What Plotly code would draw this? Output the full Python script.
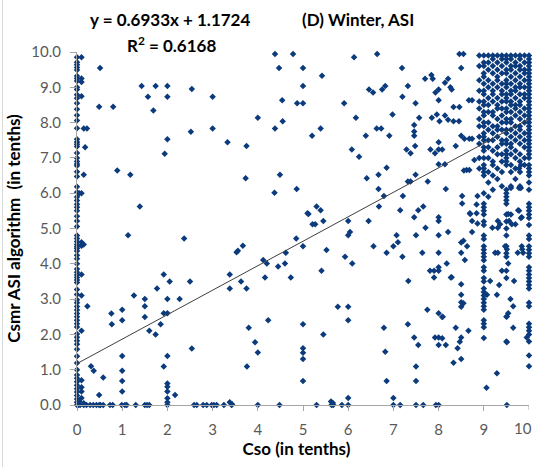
import plotly.graph_objects as go

# ---- data: Cso (observed, tenths) vs Csmr from the ASI algorithm (tenths) ----
# points sitting on the Cso = 0 axis
cso0_y = [9.85, 9.71, 9.64, 9.56, 9.49, 9.32, 9.25, 9.18, 9.0, 8.94, 8.79, 8.69, 8.55, 8.38,
          8.21, 8.06, 7.84, 7.53, 7.45, 7.39, 7.32, 7.14, 7.0, 6.9, 6.83, 6.78, 6.61, 6.47,
          6.18, 6.03, 5.89, 5.79, 5.69, 5.6, 5.5, 5.35, 5.21, 5.06, 4.8, 4.72, 4.63, 4.55,
          4.48, 4.43, 4.36, 4.24, 4.14, 4.0, 3.85, 3.76, 3.68, 3.61, 3.54, 3.47, 3.27, 3.13,
          2.98, 2.9, 2.79, 2.69, 2.59, 2.5, 2.4, 2.3, 2.21, 2.01, 1.92, 1.82, 1.72, 1.58,
          1.38, 1.19, 1.0, 0.85, 0.76, 0.66, 0.56, 0.46, 0.37, 0.27, 0.17, 0.08, 0.0]

# points sitting on the Csmr = 0 axis
zero_row_x = [0.03, 0.07, 0.15, 0.21, 0.29, 0.36, 0.43, 0.49, 0.52, 0.58, 0.73, 0.79, 0.99,
              1.06, 1.1, 1.3, 1.5, 1.55, 1.6, 2.0, 2.59, 2.65, 2.79, 2.87, 2.98, 3.03, 3.09,
              3.25, 3.42, 4.0, 4.48, 5.3, 5.63, 5.67, 5.86, 6.0, 7.0, 7.15, 7.5, 7.66, 7.94,
              8.0, 9.51]

# scattered points at low Cso
low_pts = [(0.1, 9.85), (0.51, 9.55), (0.1, 9.25), (0.1, 9.15), (0.1, 8.75), (0.49, 8.45),
           (0.8, 8.45), (0.15, 7.83), (0.22, 7.83), (0.18, 7.3), (0.15, 6.52), (0.05, 6.0),
           (0.1, 6.0), (0.1, 4.61), (0.1, 4.51), (0.15, 4.55), (0.1, 3.7), (0.1, 3.1),
           (0.23, 2.8), (0.1, 2.1), (0.31, 1.1), (0.37, 0.97), (0.58, 0.78), (0.49, 0.28),
           (0.1, 0.7), (0.1, 0.5), (0.1, 0.38), (0.1, 0.2), (0.05, 0.1), (0.15, 0.05),
           (1.43, 9.04), (1.74, 9.04), (2.0, 9.04), (2.54, 8.95), (3.0, 8.73), (1.57, 8.73),
           (2.0, 8.73), (1.69, 8.34), (4.0, 8.14), (2.52, 7.74), (3.0, 7.83), (2.0, 7.53),
           (3.33, 7.44), (3.75, 7.34), (1.94, 7.12), (0.89, 6.64), (1.18, 6.52), (3.73, 6.42),
           (1.39, 5.62), (1.13, 4.81), (2.37, 4.72), (3.53, 4.33), (3.56, 4.37), (3.67, 4.51),
           (3.38, 3.7), (1.92, 3.7), (2.05, 3.5), (2.5, 3.5), (3.38, 3.3), (3.63, 3.5),
           (3.75, 3.3), (1.77, 3.3), (1.26, 3.1), (1.5, 3.0), (1.5, 2.8), (2.0, 3.0),
           (2.27, 3.0), (0.76, 2.59), (0.77, 2.29), (1.0, 2.7), (1.0, 2.4), (1.5, 2.49),
           (1.92, 2.6), (2.0, 2.6), (1.85, 2.29), (1.6, 2.1), (1.74, 2.0), (2.54, 1.6),
           (2.0, 1.39), (1.0, 1.39), (3.8, 2.19), (3.94, 1.78), (4.0, 1.49), (3.76, 1.09),
           (1.0, 0.97), (1.0, 0.68), (1.0, 0.38), (1.92, 1.09), (2.0, 0.61), (2.0, 0.52),
           (2.0, 0.38), (2.0, 0.19), (2.0, 0.08), (2.17, 0.28), (3.38, 0.08), (3.43, 0.02)]

# scattered points at mid Cso, upper half
mid_upper_pts = [(4.38, 9.94), (4.78, 9.94), (6.64, 9.94), (6.13, 9.85), (4.47, 9.55),
                 (5.0, 9.55), (7.19, 9.55), (8.46, 9.94), (8.55, 9.94), (8.5, 9.55),
                 (5.42, 9.33), (5.0, 9.04), (6.46, 8.94), (6.55, 8.85), (6.75, 8.94),
                 (6.82, 9.04), (7.32, 9.04), (7.2, 8.73), (7.7, 9.24), (7.84, 9.35),
                 (7.87, 9.24), (8.14, 9.13), (8.21, 9.24), (8.26, 9.0), (8.29, 8.94),
                 (7.93, 8.85), (8.0, 8.94), (4.54, 8.63), (4.87, 8.55), (5.0, 8.55),
                 (5.91, 8.55), (7.49, 8.55), (8.0, 8.63), (8.33, 8.44), (8.46, 8.44),
                 (8.67, 8.63), (8.74, 8.63), (6.17, 8.14), (6.98, 8.23), (4.55, 8.04),
                 (7.57, 8.14), (7.85, 8.14), (7.96, 8.23), (8.02, 8.04), (8.14, 8.2),
                 (8.21, 8.08), (8.33, 8.04), (8.45, 8.04), (4.38, 7.83), (5.39, 7.83),
                 (5.2, 7.63), (6.63, 7.83), (6.73, 7.83), (6.39, 7.63), (6.91, 7.63),
                 (7.46, 7.93), (7.46, 7.75), (7.46, 7.63), (8.5, 7.63), (8.57, 7.54),
                 (8.68, 7.54), (8.74, 7.54), (6.08, 7.24), (6.24, 7.03), (7.29, 7.24),
                 (7.38, 7.13), (7.48, 7.34), (7.82, 7.24), (7.92, 7.13), (8.0, 7.44),
                 (8.0, 7.24), (8.08, 7.24), (8.38, 7.34), (4.49, 6.52), (4.86, 6.12),
                 (4.37, 6.01), (6.41, 6.42), (6.67, 6.52), (6.85, 6.72), (6.67, 6.12),
                 (6.79, 5.92), (6.68, 5.62), (7.21, 5.92), (7.32, 6.33), (7.38, 6.33),
                 (7.49, 6.52), (7.76, 6.33), (8.0, 6.82), (8.14, 6.82), (8.16, 6.12),
                 (5.3, 5.62), (5.39, 5.52), (5.1, 5.43), (7.15, 5.52), (7.55, 5.52),
                 (7.66, 5.62), (7.46, 5.32), (8.0, 5.32), (8.52, 5.92), (8.52, 5.71),
                 (8.69, 5.43), (8.62, 6.66), (8.68, 6.66), (8.79, 6.94), (8.56, 6.64),
                 (8.86, 5.92), (8.84, 5.68), (8.84, 5.43), (8.86, 5.14)]

# scattered points at mid Cso, lower half
mid_lower_pts = [(5.12, 5.41), (5.21, 5.12), (5.27, 5.12), (5.45, 5.21), (6.0, 5.21),
                 (6.04, 4.9), (6.0, 4.81), (6.45, 5.21), (4.85, 4.72), (5.0, 4.5),
                 (5.52, 4.39), (4.62, 4.31), (4.12, 4.11), (4.2, 4.01), (4.45, 3.92),
                 (4.6, 4.01), (4.16, 3.61), (4.73, 3.61), (5.41, 3.8), (5.93, 4.2),
                 (6.09, 4.01), (6.56, 4.5), (6.85, 4.31), (7.0, 4.5), (7.1, 4.61),
                 (7.07, 4.81), (7.2, 4.2), (7.5, 4.81), (7.71, 5.02), (8.0, 5.21),
                 (8.0, 4.81), (8.21, 4.9), (7.64, 4.31), (8.0, 4.31), (8.18, 4.01),
                 (7.33, 3.51), (7.81, 3.8), (7.9, 3.8), (8.0, 3.8), (8.0, 3.9), (7.9, 3.61),
                 (8.27, 3.61), (8.5, 4.31), (8.5, 4.6), (8.55, 4.65), (8.58, 4.11),
                 (8.63, 4.5), (8.7, 5.41), (8.74, 5.21), (8.74, 4.9), (8.5, 3.42),
                 (8.5, 3.12), (8.5, 2.91), (8.55, 2.88), (8.5, 2.78), (5.77, 2.78),
                 (6.0, 2.78), (6.0, 2.4), (4.23, 2.4), (5.0, 2.29), (5.45, 2.0), (5.0, 1.61),
                 (5.0, 1.48), (5.0, 1.3), (5.0, 0.68), (6.79, 2.19), (6.82, 1.51),
                 (6.85, 0.68), (7.32, 2.29), (7.46, 1.91), (7.55, 1.7), (7.5, 1.09),
                 (7.5, 0.68), (7.75, 2.7), (8.0, 2.6), (8.08, 2.49), (7.92, 1.91),
                 (8.0, 1.91), (8.0, 1.7), (8.16, 1.7), (8.38, 2.19), (8.5, 1.91),
                 (8.47, 1.79), (8.42, 1.61), (8.5, 1.3), (8.66, 2.1), (8.33, 1.2),
                 (8.29, 3.62), (8.09, 2.5), (8.08, 1.89), (5.62, 0.1), (5.66, 0.06),
                 (6.0, 0.2), (7.0, 0.2)]

# scattered points at high Cso below the dense block
high_lower_pts = [(9.19, 5.02), (9.31, 5.21), (9.31, 5.02), (9.36, 5.12), (9.54, 5.41),
                  (9.56, 5.21), (9.62, 5.12), (9.7, 5.12), (9.76, 5.52), (9.84, 5.32),
                  (9.25, 4.31), (9.31, 4.31), (9.47, 4.5), (9.51, 4.41), (9.75, 4.31),
                  (9.84, 4.5), (9.85, 4.41), (9.87, 4.31), (9.54, 4.01), (9.4, 3.8),
                  (9.14, 3.51), (9.34, 3.4), (9.29, 3.12), (9.07, 3.12), (9.67, 3.51),
                  (9.59, 3.0), (9.65, 2.8), (9.54, 2.6), (9.51, 2.51), (9.65, 2.19),
                  (9.51, 1.78), (9.95, 1.91), (9.06, 0.49), (9.29, 0.9), (9.78, 6.7),
                  (9.82, 6.8), (9.6, 6.15), (9.78, 6.15), (9.82, 6.15), (9.6, 5.4),
                  (9.78, 5.5), (9.82, 5.3)]

# full columns at Cso = 9.0, 9.5 and 10
cso9_y = [9.9, 9.7, 9.6, 9.4, 9.3, 9.1, 8.9, 8.8, 8.6, 8.5, 8.3, 8.2, 8.0, 7.9, 7.7, 7.6, 7.5,
          7.3, 7.2, 7.0, 6.8, 6.7, 6.6, 6.5, 6.0, 5.7, 5.6, 5.5, 5.4, 5.2, 5.1, 4.8, 4.7, 4.5,
          4.4, 4.3, 4.2, 4.1, 3.9, 3.8, 3.6, 3.5, 3.3, 3.2, 3.1, 3.0, 2.9, 2.8, 2.7, 2.4, 2.3,
          2.2, 1.9]
cso95_y = [9.9, 9.8, 9.7, 9.5, 9.4, 9.2, 9.1, 9.0, 8.8, 8.7, 8.6, 8.4, 8.3, 8.1, 8.0, 7.8,
           7.7, 7.5, 7.4, 7.2, 7.1, 7.0, 6.9, 6.8, 6.1, 6.0, 5.9, 5.8, 5.7, 5.4, 5.2, 5.0, 4.8,
           4.5, 4.3, 4.2, 3.8, 3.6, 2.5, 1.8]
cso10_y = [9.9, 9.8, 9.7, 9.6, 9.5, 9.4, 9.3, 9.2, 9.1, 9.0, 8.9, 8.8, 8.7, 8.6, 8.5, 8.4,
           8.3, 8.2, 8.1, 8.0, 7.9, 7.8, 7.7, 7.6, 7.5, 7.4, 7.3, 7.2, 7.1, 7.0, 6.8, 6.7,
           6.6, 6.5, 6.3, 6.1, 5.7, 5.6, 5.5, 5.4, 5.3, 5.1, 4.8, 4.7, 4.5, 4.4, 4.3, 4.2,
           3.9, 3.8, 3.7, 3.6, 3.5, 3.4, 3.3, 2.9, 2.8, 2.3, 2.2, 2.1, 2.0, 1.8, 1.4, 1.1]

# partial columns filling the overcast corner
cso89_y = [9.9, 9.6, 9.2, 8.9, 8.6, 8.4, 8.1, 7.9, 7.6, 7.4, 7.0, 6.7]
cso91_y = [9.9, 9.7, 9.5, 9.2, 9.0, 8.7, 8.5, 8.3, 8.0, 7.8, 7.5, 7.3, 7.0, 6.6, 6.3, 5.9]
cso92_y = [9.9, 9.8, 9.6, 9.4, 9.1, 8.9, 8.8, 8.6, 8.3, 8.2, 7.9, 7.7, 7.5, 7.2, 6.9, 6.8,
           6.5, 6.1]
cso93_y = [9.9, 9.7, 9.5, 9.3, 9.2, 9.0, 8.7, 8.5, 8.4, 8.1, 7.9, 7.8, 7.6, 7.3, 7.1, 6.7,
           6.4]
cso94_y = [9.9, 9.8, 9.6, 9.4, 9.1, 8.9, 8.8, 8.6, 8.4, 8.2, 8.0, 7.8, 7.5, 7.4, 7.1, 6.9,
           6.6, 6.2]
cso96_y = [9.9, 9.8, 9.6, 9.5, 9.3, 9.1, 8.9, 8.8, 8.6, 8.5, 8.3, 8.1, 8.0, 7.8, 7.6, 7.4,
           7.3, 7.1, 6.8, 6.6, 6.2]
cso97_y = [9.9, 9.7, 9.6, 9.4, 9.2, 9.0, 8.9, 8.7, 8.5, 8.4, 8.2, 7.9, 7.7, 7.5, 7.2, 7.0,
           6.7, 6.4]
cso98_y = [9.9, 9.8, 9.6, 9.5, 9.3, 9.1, 9.0, 8.8, 8.6, 8.5, 8.3, 8.1, 7.9, 7.8, 7.6, 7.4,
           7.1, 6.9, 6.6, 6.2]
cso99_y = [9.9, 9.7, 9.5, 9.4, 9.2, 9.0, 8.8, 8.7, 8.4, 8.2, 8.0, 7.7, 7.5, 7.3, 7.0, 6.8]

# linear fit reported on the chart
slope = 0.6933
intercept = 1.1724
r_squared = 0.6168
fit_x = [0, 10]

x_ticks = list(range(0, 11))
y_ticks = list(range(0, 11))

# ---- assemble the scatter ----
xs, ys = [], []
xs += [0.0] * len(cso0_y); ys += cso0_y
xs += zero_row_x; ys += [0.0] * len(zero_row_x)
for pts in (low_pts, mid_upper_pts, mid_lower_pts, high_lower_pts):
    xs += [p[0] for p in pts]
    ys += [p[1] for p in pts]
for cx, col in ((8.9, cso89_y), (9.0, cso9_y), (9.1, cso91_y), (9.2, cso92_y),
                (9.3, cso93_y), (9.4, cso94_y), (9.5, cso95_y), (9.6, cso96_y),
                (9.7, cso97_y), (9.8, cso98_y), (9.9, cso99_y), (10.0, cso10_y)):
    xs += [cx] * len(col)
    ys += col

FONT = "Lato"
AXIS_GREY = "#a6a6a6"
TEXT_GREY = "#595959"

fig = go.Figure()
fig.add_trace(go.Scatter(
    x=xs, y=ys, mode="markers",
    marker=dict(symbol="diamond", size=5, color="#0b3b7c", line=dict(width=0)),
    cliponaxis=False, showlegend=False, hoverinfo="skip",
))
fig.add_trace(go.Scatter(
    x=fit_x, y=[slope * v + intercept for v in fit_x], mode="lines",
    line=dict(color="#3f3f3f", width=1), showlegend=False, hoverinfo="skip",
))

fig.update_layout(
    width=535, height=467,
    margin=dict(l=77, r=6, t=52, b=62),
    paper_bgcolor="white", plot_bgcolor="white",
    font=dict(family=FONT),
    xaxis=dict(
        range=[0, 10], tickvals=x_ticks[:-1], ticktext=[str(v) for v in x_ticks[:-1]],
        ticks="outside", ticklen=5, tickcolor=AXIS_GREY, tickwidth=1,
        showline=True, linecolor=AXIS_GREY, linewidth=1,
        showgrid=False, zeroline=False,
        tickfont=dict(size=15, color=TEXT_GREY, family=FONT),
        ticklabelstandoff=6,
        # trailing spaces nudge the centred title a little to the left
        title=dict(text="<b>Cso (in tenths)</b>&nbsp;&nbsp;&nbsp;", standoff=6,
                   font=dict(size=17, color="black", family=FONT)),
    ),
    yaxis=dict(
        range=[0, 10], tickvals=y_ticks, ticktext=[f"{v:.1f}" for v in y_ticks],
        ticks="outside", ticklen=6, tickcolor=AXIS_GREY, tickwidth=1,
        showline=True, linecolor=AXIS_GREY, linewidth=1,
        showgrid=False, zeroline=False,
        tickfont=dict(size=15, color=TEXT_GREY, family=FONT),
        ticklabelstandoff=6,
        title=dict(text="<b>Csmr ASI algorithm  (in tenths)</b>", standoff=6,
                   font=dict(size=17, color="black", family=FONT)),
    ),
    annotations=[
        # last x tick label sits against the right edge of the figure
        dict(text=str(x_ticks[-1]), x=(534 - 77) / 452, y=-(428 - 405) / 353,
             xref="paper", yref="paper", showarrow=False, xanchor="right", yanchor="middle",
             font=dict(size=15, color=TEXT_GREY, family=FONT)),
        dict(text=f"<b>y = {slope}x + {intercept}</b>", x=(170 - 77) / 452, y=1 + 32 / 353,
             xref="paper", yref="paper", showarrow=False, xanchor="center", yanchor="middle",
             font=dict(size=17, color="black", family=FONT)),
        dict(text=f"<b>R<sup>2</sup> = {r_squared}</b>", x=(171 - 77) / 452, y=1 + 7 / 353,
             xref="paper", yref="paper", showarrow=False, xanchor="center", yanchor="middle",
             font=dict(size=17, color="black", family=FONT)),
        dict(text="<b>(D) Winter, ASI</b>", x=(358 - 77) / 452, y=1 + 32 / 353,
             xref="paper", yref="paper", showarrow=False, xanchor="center", yanchor="middle",
             font=dict(size=17, color="black", family=FONT)),
    ],
    shapes=[
        # tick mark at the right end of the x axis
        dict(type="line", xref="x", yref="paper", x0=x_ticks[-1], x1=x_ticks[-1],
             ysizemode="pixel", yanchor=0, y0=0, y1=-5,
             line=dict(color=AXIS_GREY, width=1)),
        # chart-area border on the left
        dict(type="line", xref="paper", yref="paper", x0=(2.5 - 77) / 452, x1=(2.5 - 77) / 452,
             y0=-62 / 353, y1=1 + 52 / 353, line=dict(color="#d9d9d9", width=1)),
    ],
)

fig.write_html("out.html")
